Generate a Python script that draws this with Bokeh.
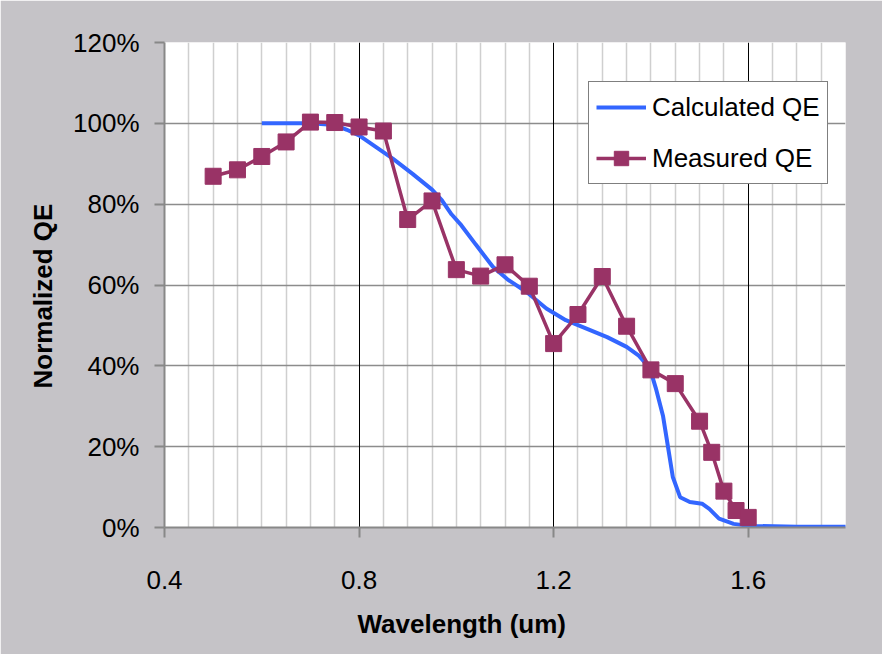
import numpy as np
from bokeh.plotting import figure
from bokeh.models import (Range1d, FixedTicker, NumeralTickFormatter, Grid,
                          Legend, LegendItem, Title)
from bokeh.embed import file_html
from bokeh.resources import INLINE

# ---- data ----
calc_wavelength = [0.60, 0.65, 0.70, 0.75, 0.775, 0.80, 0.835, 0.87, 0.91, 0.95,
                   0.97, 0.99, 1.01, 1.04, 1.075, 1.105, 1.145, 1.185, 1.225, 1.27,
                   1.31, 1.35, 1.375, 1.39, 1.40, 1.41, 1.425, 1.435, 1.445, 1.46,
                   1.48, 1.505, 1.52, 1.54, 1.57, 1.60, 1.70, 1.82]
calc_qe = [1.00, 1.00, 1.00, 0.996, 0.984, 0.970, 0.941, 0.912, 0.875, 0.836,
           0.81, 0.775, 0.748, 0.70, 0.645, 0.614, 0.582, 0.542, 0.513, 0.491,
           0.471, 0.447, 0.425, 0.405, 0.385, 0.345, 0.275, 0.20, 0.125, 0.075,
           0.063, 0.059, 0.046, 0.022, 0.009, 0.004, 0.002, 0.002]

meas_wavelength = [0.50, 0.55, 0.60, 0.65, 0.70, 0.75, 0.80, 0.85, 0.90, 0.95,
                   1.00, 1.05, 1.10, 1.15, 1.20, 1.25, 1.30, 1.35, 1.40, 1.45,
                   1.50, 1.525, 1.55, 1.575, 1.60]
meas_qe = [0.869, 0.885, 0.918, 0.954, 1.003, 1.002, 0.991, 0.981, 0.762, 0.808,
           0.638, 0.622, 0.650, 0.597, 0.455, 0.527, 0.621, 0.498, 0.390, 0.356,
           0.263, 0.186, 0.090, 0.042, 0.025]

x_ticks = [0.4, 0.8, 1.2, 1.6]
y_ticks = [0.0, 0.2, 0.4, 0.6, 0.8, 1.0, 1.2]

series_names = ["Calculated QE", "Measured QE"]
x_title = "Wavelength (um)"
y_title = "Normalized QE"

# ---- style ----
FONT = "Liberation Sans"
BG = "#C5C3C7"
BLUE = "#3366FF"
MAROON = "#993366"
AXIS_GRAY = "#888888"

p = figure(width=882, height=654, output_backend="svg", toolbar_location=None,
           x_range=Range1d(0.4, 1.8), y_range=Range1d(0, 1.2),
           min_border_left=164, min_border_right=37,
           min_border_top=42, min_border_bottom=127)
p.background_fill_color = "white"
p.border_fill_color = BG
p.outline_line_color = None

# grids
minor_x = [round(v, 2) for v in np.arange(0.45, 1.80, 0.05) if round(v, 2) not in x_ticks]
p.xgrid.ticker = FixedTicker(ticks=minor_x)
p.xgrid.grid_line_color = "#CFCFCF"
p.xgrid.grid_line_width = 1.5
major_grid = Grid(dimension=0, ticker=FixedTicker(ticks=x_ticks[1:]),
                  grid_line_color="black", grid_line_width=1)
p.add_layout(major_grid)
p.ygrid.ticker = FixedTicker(ticks=y_ticks)
p.ygrid.grid_line_color = "#8C8C8C"
p.ygrid.grid_line_width = 1.5

# axes
for ax in (p.xaxis[0], p.yaxis[0]):
    ax.axis_line_color = AXIS_GRAY
    ax.axis_line_width = 2
    ax.major_tick_line_color = AXIS_GRAY
    ax.major_tick_line_width = 2
    ax.major_tick_out = 10
    ax.major_tick_in = 0
    ax.minor_tick_out = 0
    ax.minor_tick_in = 0
    ax.major_label_text_font = FONT
    ax.major_label_text_font_size = "26px"
    ax.major_label_text_color = "black"
p.xaxis.ticker = FixedTicker(ticks=x_ticks)
p.yaxis.ticker = FixedTicker(ticks=y_ticks)
p.yaxis.formatter = NumeralTickFormatter(format="0%")
p.xaxis.major_label_standoff = 33
p.yaxis.major_label_standoff = 15

# series
r_calc = p.line(calc_wavelength, calc_qe, line_color=BLUE, line_width=4)
r_meas_line = p.line(meas_wavelength, meas_qe, line_color=MAROON, line_width=3.5)
r_meas_pts = p.scatter(meas_wavelength, meas_qe, marker="square", size=16,
                       fill_color=MAROON, line_color=MAROON)

legend = Legend(items=[LegendItem(label=series_names[0], renderers=[r_calc]),
                       LegendItem(label=series_names[1], renderers=[r_meas_line, r_meas_pts])],
                location=(424, 343), margin=0, padding=7, spacing=15,
                glyph_width=50, glyph_height=36, label_standoff=6,
                label_text_font=FONT, label_text_font_size="26px",
                label_text_color="black",
                border_line_color="black", border_line_width=1.5,
                background_fill_color="white", background_fill_alpha=1)
p.add_layout(legend)

# axis titles
p.add_layout(Title(text=x_title, align="left", offset=193, standoff=31,
                   text_font=FONT, text_font_style="bold", text_font_size="26px",
                   text_color="black"), "below")
p.add_layout(Title(text=y_title, align="left", offset=139, standoff=26,
                   text_font=FONT, text_font_style="bold", text_font_size="26px",
                   text_color="black"), "left")

open("out.html", "w").write(file_html(p, INLINE))
